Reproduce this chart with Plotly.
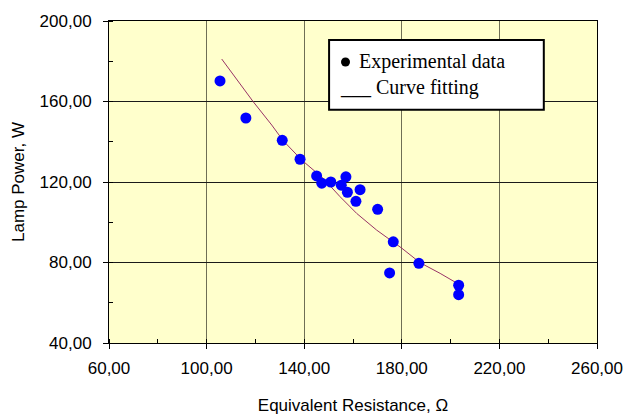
import plotly.graph_objects as go

resistance = [105.5, 116.1, 131.0, 138.3, 145.1, 147.2, 150.9, 157.1, 155.2, 157.7,
              162.9, 161.2, 170.1, 176.5, 175.0, 187.0, 203.3, 203.3]
power = [170.2, 151.8, 140.7, 131.3, 123.0, 119.4, 120.0, 122.6, 118.4, 114.9,
         116.2, 110.4, 106.4, 90.3, 74.8, 79.6, 68.7, 64.0]

# Fitted curve
curve_r = [106.2, 113.0, 119.1, 126.7, 131.4, 139.0, 147.8, 154.7, 161.5, 169.7,
           180.0, 187.5, 195.7, 203.2]
curve_p = [181.1, 169.8, 159.9, 148.3, 140.5, 130.9, 121.8, 112.7, 104.4, 96.1,
           87.1, 79.9, 74.6, 69.3]

x_ticks = [60, 100, 140, 180, 220, 260]
y_ticks = [40, 80, 120, 160, 200]

fig = go.Figure()
fig.add_trace(go.Scatter(x=curve_r, y=curve_p, mode="lines",
                         line=dict(color="#993366", width=1), showlegend=False,
                         hoverinfo="skip"))
fig.add_trace(go.Scatter(x=resistance, y=power, mode="markers",
                         marker=dict(color="#0000FF", size=11, line=dict(width=0)),
                         showlegend=False))

axis_font = dict(family="Liberation Sans, Arial, sans-serif", size=17, color="black")

fig.update_layout(
    width=625, height=415,
    margin=dict(l=109, r=28, t=21, b=72),
    paper_bgcolor="white",
    plot_bgcolor="#FFFFCC",
    separators=",.",
    showlegend=False,
    font=axis_font,
)

fig.update_xaxes(
    range=[60, 260], tickmode="array", tickvals=x_ticks, tickformat=".2f",
    showgrid=True, gridcolor="#6f6f55", gridwidth=1,
    showline=True, linecolor="black", linewidth=1, mirror=True,
    ticks="outside", ticklen=5, tickcolor="black", tickfont=axis_font,
    ticklabelstandoff=5, automargin=False,
    minor=dict(ticks="inside", ticklen=4, dtick=20, tick0=60, tickcolor="black", showgrid=False),
    zeroline=False,
    title=dict(text="Equivalent Resistance, Ω", font=axis_font, standoff=23),
)
fig.update_yaxes(
    range=[40, 200], tickmode="array", tickvals=y_ticks, tickformat=".2f",
    showgrid=True, gridcolor="#1a1a1a", gridwidth=1,
    showline=True, linecolor="black", linewidth=1, mirror=True,
    ticks="outside", ticklen=5, tickcolor="black", tickfont=axis_font,
    ticklabelstandoff=8, automargin=False,
    minor=dict(ticks="inside", ticklen=4, dtick=20, tick0=40, tickcolor="black", showgrid=False),
    zeroline=False,
    title=dict(text="Lamp Power, W", font=axis_font, standoff=10),
)

# Legend-like text box
fig.add_shape(type="rect", xref="paper", yref="paper",
              x0=0.451, x1=0.891, y0=0.724, y1=0.941,
              line=dict(color="black", width=2), fillcolor="white", layer="above")
fig.add_shape(type="circle", xref="paper", yref="paper",
              x0=(341 - 109) / 488, x1=(350 - 109) / 488,
              y0=(343 - 66.5) / 322, y1=(343 - 57.5) / 322,
              line=dict(color="black", width=0), fillcolor="black", layer="above")
serif = dict(family="Liberation Serif, Times New Roman, serif", size=20, color="black")
fig.add_annotation(xref="paper", yref="paper", x=(357 - 109) / 488, y=(343 - 62) / 322,
                   text="Experimental data", showarrow=False, xanchor="left",
                   yanchor="middle", font=serif)
fig.add_annotation(xref="paper", yref="paper", x=(338 - 109) / 488, y=(343 - 87) / 322,
                   text="___", showarrow=False, xanchor="left",
                   yanchor="middle", font=serif)
fig.add_annotation(xref="paper", yref="paper", x=(374 - 109) / 488, y=(343 - 87) / 322,
                   text="Curve fitting", showarrow=False, xanchor="left",
                   yanchor="middle", font=serif)

fig.write_html("out.html")
